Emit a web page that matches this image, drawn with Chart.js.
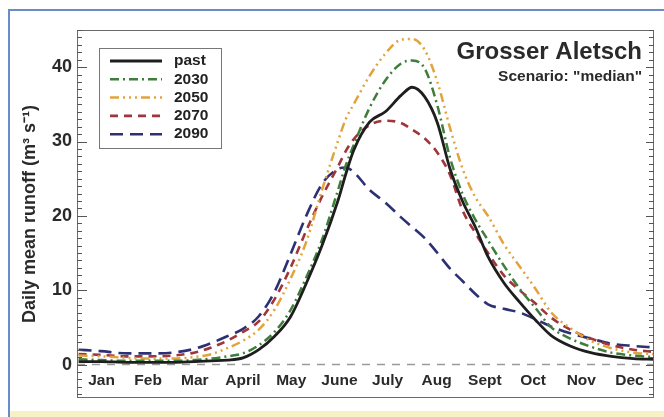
<!DOCTYPE html>
<html>
<head>
<meta charset="utf-8">
<script src="https://cdn.jsdelivr.net/npm/chart.js@4.4.1/dist/chart.umd.min.js"></script>
<style>
  html, body { margin: 0; padding: 0; background: #fff; }
  #wrap { position: relative; width: 664px; height: 417px; overflow: hidden; }
  #frame { position: absolute; left: 8px; top: 9px; width: 700px; height: 420px;
           border-top: 2px solid #6a8cc6; border-left: 2px solid #6a8cc6; }
  #band { position: absolute; left: 10px; top: 411px; width: 654px; height: 6px; background: #f6f2c4; }
  canvas { position: absolute; left: 0; top: 0; }
</style>
</head>
<body>
<div id="wrap">
  <div id="frame"></div>
  <div id="band"></div>
  <canvas id="runoff" width="664" height="417"></canvas>
</div>
<script>
// DATA (day of year, runoff m3/s)
const days = [1, 15, 32, 46, 60, 74, 85, 95, 105, 115, 125, 135, 145, 155, 165, 170, 175, 185, 195, 205, 212, 220, 228, 236, 244, 252, 260, 270, 280, 290, 300, 312, 325, 338, 352, 365];

const past   = [0.4, 0.4, 0.3, 0.3, 0.3, 0.4, 0.5, 0.6, 0.9, 2.0, 3.8, 6.4, 10.9, 16.0, 22.0, 25.6, 28.8, 32.6, 34.0, 36.2, 37.3, 36.0, 32.5, 26.3, 21.9, 18.5, 14.5, 11.0, 8.4, 6.0, 3.9, 2.5, 1.6, 1.1, 0.8, 0.7];
const y2030  = [0.7, 0.6, 0.5, 0.5, 0.5, 0.6, 0.8, 1.1, 1.5, 2.6, 4.4, 7.3, 11.7, 16.8, 23.4, 26.8, 29.5, 34.5, 38.2, 40.5, 40.9, 39.8, 34.8, 27.8, 22.9, 19.5, 16.7, 13.3, 10.2, 7.6, 5.0, 3.5, 2.4, 1.6, 1.2, 1.0];
const y2050  = [1.2, 1.1, 0.9, 0.8, 0.8, 1.0, 1.4, 2.2, 3.2, 4.7, 7.4, 11.5, 16.5, 23.5, 30.0, 33.0, 35.0, 38.8, 41.8, 43.7, 43.8, 42.3, 38.0, 31.8, 26.3, 22.5, 20.0, 16.2, 13.2, 10.2, 7.0, 4.9, 3.2, 2.2, 1.6, 1.4];
const y2070  = [1.4, 1.3, 1.1, 1.1, 1.2, 1.6, 2.3, 3.2, 4.4, 5.8, 8.8, 13.0, 18.0, 22.6, 26.6, 28.7, 30.3, 32.2, 32.8, 32.5, 31.6, 30.4, 28.5, 25.5, 20.7, 17.7, 15.0, 12.0, 10.0, 8.2, 6.3, 4.7, 3.5, 2.6, 2.0, 1.7];
const y2090  = [2.0, 1.8, 1.5, 1.5, 1.6, 2.1, 2.9, 3.8, 4.8, 6.5, 9.8, 14.8, 20.0, 24.3, 26.3, 26.5, 25.9, 23.5, 21.8, 19.8, 18.5, 17.0, 15.0, 12.9, 11.2, 9.5, 8.1, 7.5, 7.0, 6.1, 5.1, 4.2, 3.5, 2.8, 2.5, 2.3];

const monthMid = [15.5, 45, 74.5, 105, 135.5, 166, 196.5, 227.5, 258, 288.5, 319, 349.5];
const monthLabels = ['Jan', 'Feb', 'Mar', 'April', 'May', 'June', 'July', 'Aug', 'Sept', 'Oct', 'Nov', 'Dec'];
const yTicks = [0, 10, 20, 30, 40];

const FONT = "'Liberation Sans', Arial, sans-serif";

function pts(vals) {
    return days.map((d, i) => ({ x: d, y: vals[i] }));
}

function series(label, vals, color, dash, width) {
    return {
        label: label,
        data: pts(vals),
        borderColor: color,
        borderDash: dash,
        borderWidth: width,
        pointRadius: 0,
        fill: false,
        cubicInterpolationMode: 'monotone'
    };
}

// draws frame, inner ticks, zero line, title and legend
const decor = {
    id: 'decor',
    beforeDatasetsDraw(chart) {
        const ctx = chart.ctx, a = chart.chartArea, y = chart.scales.y;
        ctx.save();
        const y0 = y.getPixelForValue(0);
        ctx.strokeStyle = '#9a9a9a';
        ctx.lineWidth = 1.5;
        ctx.setLineDash([8, 7]);
        ctx.beginPath();
        ctx.moveTo(a.left, y0);
        ctx.lineTo(a.right, y0);
        ctx.stroke();
        ctx.restore();
    },
    afterDraw(chart) {
        const ctx = chart.ctx, a = chart.chartArea, y = chart.scales.y;
        ctx.save();
        // plot frame
        ctx.strokeStyle = '#6a6a6a';
        ctx.lineWidth = 1;
        ctx.strokeRect(a.left + 0.5, a.top + 0.5, a.right - a.left - 1, a.bottom - a.top - 1);
        // minor/major ticks pointing inwards
        ctx.strokeStyle = '#555';
        for (let v = -4; v <= 45; v++) {
            const py = Math.round(y.getPixelForValue(v)) + 0.5;
            const major = v % 10 === 0;
            ctx.beginPath();
            ctx.moveTo(a.left, py);
            ctx.lineTo(a.left + (major ? 10 : 5), py);
            ctx.moveTo(a.right, py);
            ctx.lineTo(a.right - (major ? 8 : 5), py);
            ctx.stroke();
        }
        // title
        ctx.fillStyle = '#2a2a2a';
        ctx.textAlign = 'right';
        ctx.textBaseline = 'middle';
        ctx.font = 'bold 24px ' + FONT;
        ctx.fillText('Grosser Aletsch', a.right - 12, 52);
        ctx.font = 'bold 15.5px ' + FONT;
        ctx.fillText('Scenario: "median"', a.right - 12, 77);
        // legend
        const bx = 99, by = 48, bw = 122, bh = 100;
        ctx.fillStyle = '#fff';
        ctx.fillRect(bx, by, bw, bh);
        ctx.strokeStyle = '#777';
        ctx.lineWidth = 1;
        ctx.strokeRect(bx + 0.5, by + 0.5, bw, bh);
        chart.data.datasets.forEach((ds, i) => {
            const ly = 61 + i * 18.3;
            ctx.strokeStyle = ds.borderColor;
            ctx.lineWidth = ds.borderWidth;
            ctx.setLineDash(ds.borderDash || []);
            ctx.beginPath();
            ctx.moveTo(110, ly);
            ctx.lineTo(162, ly);
            ctx.stroke();
            ctx.setLineDash([]);
            ctx.fillStyle = '#222';
            ctx.textAlign = 'left';
            ctx.font = 'bold 15.5px ' + FONT;
            ctx.fillText(ds.label, 174, ly);
        });
        ctx.restore();
    }
};

new Chart(document.getElementById('runoff'), {
    type: 'line',
    data: {
        datasets: [
            series('past', past, '#1e1e1e', [], 2.8),
            series('2030', y2030, '#3f7d3a', [9, 4, 2, 4], 2.5),
            series('2050', y2050, '#e2a23c', [9, 4, 2, 4, 2, 4, 2, 4], 2.5),
            series('2070', y2070, '#a0363a', [8, 6], 2.6),
            series('2090', y2090, '#2d3173', [13, 7], 2.6)
        ]
    },
    options: {
        responsive: false,
        animation: false,
        layout: { padding: { left: 10, top: 30, right: 10, bottom: 0 } },
        plugins: { legend: { display: false }, tooltip: { enabled: false } },
        scales: {
            x: {
                type: 'linear',
                min: 0,
                max: 365,
                grid: { display: false, drawTicks: false },
                border: { display: false },
                afterBuildTicks: (s) => { s.ticks = monthMid.map(v => ({ value: v })); },
                afterFit: (s) => { s.height = 19; },
                ticks: {
                    autoSkip: false,
                    maxRotation: 0,
                    mirror: true,
                    padding: 8,
                    color: '#2a2a2a',
                    font: { family: FONT, size: 15.5, weight: 'bold' },
                    callback: (v, i) => monthLabels[i]
                }
            },
            y: {
                min: -4.5,
                max: 45,
                grid: { display: false, drawTicks: false },
                border: { display: false },
                afterBuildTicks: (s) => { s.ticks = yTicks.map(v => ({ value: v })); },
                afterFit: (s) => { s.width = 67; },
                ticks: {
                    padding: 5,
                    color: '#2a2a2a',
                    font: { family: FONT, size: 18, weight: 'bold' }
                },
                title: {
                    display: true,
                    text: 'Daily mean runoff (m³ s⁻¹)',
                    color: '#2a2a2a',
                    font: { family: FONT, size: 18, weight: 'bold' },
                    padding: { top: 9, bottom: 0 }
                }
            }
        }
    },
    plugins: [decor]
});
</script>
</body>
</html>
